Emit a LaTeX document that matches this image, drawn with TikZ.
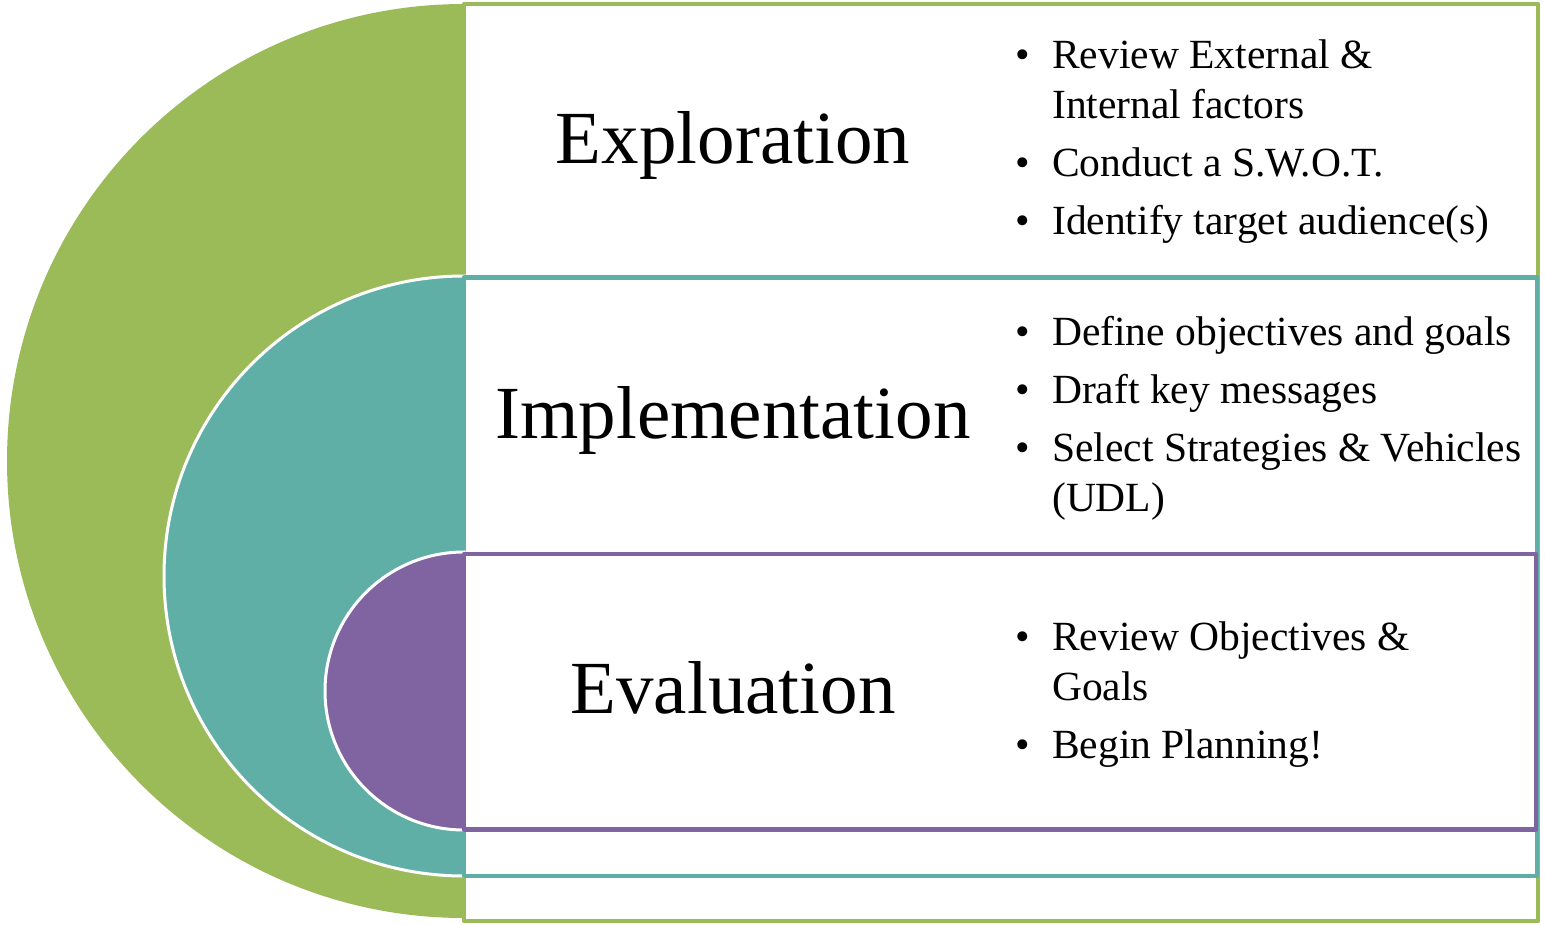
\documentclass[tikz,border=0pt]{standalone}
\usepackage{fontspec}
\setmainfont{Liberation Serif}
\definecolor{cgreen}{HTML}{9BBB59}
\definecolor{cteal}{HTML}{5FAFA6}
\definecolor{cpurple}{HTML}{8064A2}
\tikzset{
  disc/.style={draw=white, line width=3pt},
  box/.style={fill=white, line width=4.5pt, line join=round},
  heading/.style={anchor=base, inner sep=0pt, font=\fontsize{75}{90}\selectfont},
  itemtext/.style={anchor=base west, inner sep=0pt, font=\fontsize{41.5}{50}\selectfont},
  bul/.style={anchor=base west, inner sep=0pt, font=\fontsize{41.5}{50}\selectfont}
}
\begin{document}
\begin{tikzpicture}[x=1pt,y=1pt]
\useasboundingbox (0,0) rectangle (1545,-924);
% green
\fill[cgreen] (464,-4) arc[start angle=90, end angle=270, radius=457] -- cycle;
\draw[box, draw=cgreen] (464,-4) rectangle (1538,-921);
% teal
\filldraw[disc, fill=cteal] (464,-276) arc[start angle=90, end angle=270, radius=300] -- cycle;
\draw[box, draw=cteal] (464,-277.5) rectangle (1537,-876);
% purple
\filldraw[disc, fill=cpurple] (464,-552) arc[start angle=90, end angle=270, radius=139] -- cycle;
\draw[box, draw=cpurple] (464,-554) rectangle (1536,-829.5);
% headings
\node[heading] (hexp) at (733,-163) {Exploration};
\node[heading] (himp) at (733,-438) {Implementation};
\node[heading] (heva) at (733,-713) {Evaluation};
% exploration list
\node[bul] (b11) at (1015,-68) {•};
\node[itemtext] (t11a) at (1052,-68) {Review External \&};
\node[itemtext] (t11b) at (1052,-118) {Internal factors};
\node[bul] (b12) at (1015,-176) {•};
\node[itemtext] (t12) at (1052,-176) {Conduct a S.W.O.T.};
\node[bul] (b13) at (1015,-234) {•};
\node[itemtext] (t13) at (1052,-234) {Identify target audience(s)};
% implementation list
\node[bul] (b21) at (1015,-345) {•};
\node[itemtext] (t21) at (1052,-345) {Define objectives and goals};
\node[bul] (b22) at (1015,-403) {•};
\node[itemtext] (t22) at (1052,-403) {Draft key messages};
\node[bul] (b23) at (1015,-461) {•};
\node[itemtext] (t23a) at (1052,-461) {Select Strategies \& Vehicles};
\node[itemtext] (t23b) at (1052,-511) {(UDL)};
% evaluation list
\node[bul] (b31) at (1015,-650) {•};
\node[itemtext] (t31a) at (1052,-650) {Review Objectives \&};
\node[itemtext] (t31b) at (1052,-700) {Goals};
\node[bul] (b32) at (1015,-758) {•};
\node[itemtext] (t32) at (1052,-758) {Begin Planning!};
\end{tikzpicture}
\end{document}
